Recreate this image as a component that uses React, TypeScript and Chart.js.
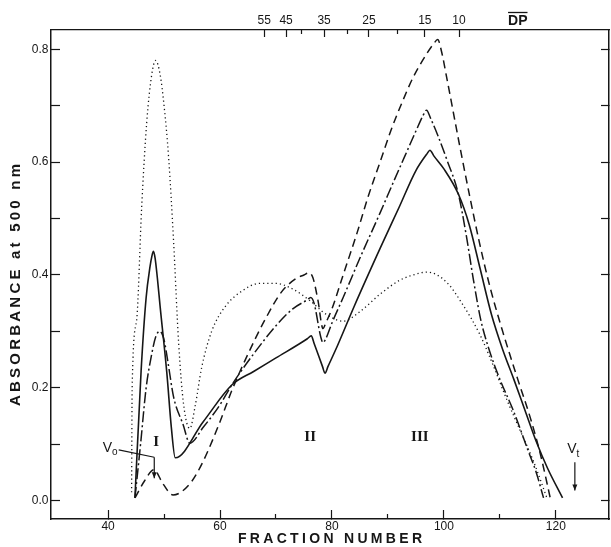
import React, { useEffect, useRef } from 'react';
import { Chart, registerables } from 'chart.js';

Chart.register(...registerables);

// ---- axis ticks ----
const xTickValues = [40, 60, 80, 100, 120];
const xMinorTickValues = [50, 70, 90, 110];
const yTickValues = [0, 0.1, 0.2, 0.3, 0.4, 0.5, 0.6, 0.7, 0.8];
const dpTickLabels = ['55', '45', '35', '25', '15', '10'];
const dpTickFractions = [67.9, 71.8, 78.6, 86.6, 96.6, 102.7];
const dpMinorTickFractions = [74.6, 82.7, 91.7];

// ---- series (fraction number, absorbance at 500 nm) ----
const solidX = [44.8, 45.9, 46.8, 47.5, 47.8, 48.1, 48.4, 48.8, 49.3, 50.5, 51.3, 52.0, 57.0, 62.1, 66.0, 70.0, 75.6, 76.3, 76.8, 78.3, 78.75, 79.3, 81.0, 84.0, 88.6, 92.0, 95.0, 97.0, 97.5, 98.2, 100.0, 102.6, 104.5, 106.5, 108.5, 110.5, 112.5, 114.5, 116.5, 118.5, 121.2];
const solidY = [0.005, 0.23, 0.36, 0.415, 0.432, 0.442, 0.43, 0.395, 0.344, 0.226, 0.13, 0.076, 0.14, 0.205, 0.229, 0.253, 0.287, 0.292, 0.279, 0.238, 0.226, 0.238, 0.275, 0.345, 0.447, 0.52, 0.585, 0.615, 0.621, 0.611, 0.588, 0.543, 0.49, 0.41, 0.33, 0.268, 0.215, 0.16, 0.105, 0.058, 0.005];

const dashedX = [44.8, 46.5, 48.2, 49.8, 51.6, 53.0, 55.0, 57.0, 60.0, 62.1, 65.0, 68.0, 71.0, 73.5, 75.0, 75.9, 76.6, 77.5, 78.4, 78.9, 80.0, 82.0, 84.5, 86.5, 88.6, 90.5, 92.5, 94.5, 96.5, 98.2, 98.9, 99.6, 100.4, 102.9, 104.6, 106.4, 108.2, 110.5, 113.2, 115.5, 117.3, 119.0];
const dashedY = [0.005, 0.035, 0.055, 0.03, 0.01, 0.015, 0.035, 0.07, 0.14, 0.195, 0.26, 0.32, 0.37, 0.393, 0.40, 0.404, 0.395, 0.355, 0.305, 0.315, 0.34, 0.40, 0.475, 0.54, 0.60, 0.655, 0.705, 0.75, 0.785, 0.81, 0.817, 0.795, 0.755, 0.625, 0.54, 0.455, 0.38, 0.30, 0.215, 0.145, 0.08, 0.005];

const dashDotX = [44.8, 45.8, 46.8, 47.8, 48.5, 49.2, 50.0, 50.7, 51.7, 53.4, 54.6, 57.0, 60.0, 62.1, 66.0, 70.0, 73.0, 75.6, 76.2, 76.8, 78.0, 78.4, 78.9, 80.0, 82.0, 85.0, 88.6, 91.0, 93.0, 95.0, 96.3, 96.9, 97.6, 99.0, 100.5, 102.6, 104.0, 105.3, 106.6, 108.0, 110.0, 112.4, 115.0, 116.5, 117.8];
const dashDotY = [0.005, 0.1, 0.2, 0.26, 0.29, 0.30, 0.285, 0.245, 0.184, 0.135, 0.102, 0.13, 0.17, 0.205, 0.26, 0.31, 0.34, 0.356, 0.36, 0.35, 0.29, 0.28, 0.287, 0.315, 0.36, 0.43, 0.51, 0.565, 0.61, 0.655, 0.683, 0.692, 0.678, 0.645, 0.605, 0.543, 0.47, 0.39, 0.32, 0.27, 0.215, 0.16, 0.09, 0.05, 0.005];

const dottedX = [44.2, 44.3, 45.1, 46.0, 46.9, 47.8, 48.5, 49.3, 50.0, 50.8, 51.7, 52.6, 53.5, 54.6, 55.6, 56.7, 58.5, 61.0, 64.0, 67.0, 70.0, 73.0, 76.0, 79.0, 82.0, 85.0, 88.6, 92.0, 94.5, 97.0, 100.5, 103.4, 106.4, 108.8, 111.2, 113.6, 116.0, 118.4];
const dottedY = [0.015, 0.2, 0.32, 0.52, 0.67, 0.755, 0.78, 0.755, 0.70, 0.61, 0.46, 0.28, 0.17, 0.128, 0.17, 0.235, 0.3, 0.345, 0.372, 0.385, 0.385, 0.375, 0.355, 0.33, 0.318, 0.335, 0.366, 0.39, 0.40, 0.405, 0.387, 0.347, 0.295, 0.24, 0.18, 0.125, 0.07, 0.005];

// ---- annotation text ----
const peakLabels = ['I', 'II', 'III'];
const peakLabelFractions = [48.6, 76.1, 95.7];
const peakLabelAbsorbance = [0.104, 0.113, 0.112];

const INK = '#161616';
const SANS = '"Liberation Sans", Arial, sans-serif';
const SERIF = '"Liberation Serif", "Times New Roman", serif';

const toPoints = (xs: number[], ys: number[]) => xs.map((v, i) => ({ x: v, y: ys[i] }));

function spacedText(ctx: CanvasRenderingContext2D, text: string, cx: number, cy: number, target: number) {
  (ctx as any).letterSpacing = '0px';
  const w = ctx.measureText(text).width;
  const sp = Math.max(0, (target - w) / Math.max(1, text.length - 1));
  (ctx as any).letterSpacing = sp + 'px';
  ctx.textAlign = 'left';
  ctx.textBaseline = 'middle';
  ctx.fillText(text, cx - target / 2, cy);
  (ctx as any).letterSpacing = '0px';
}

function arrowDown(ctx: CanvasRenderingContext2D, x: number, y0: number, y1: number) {
  ctx.beginPath();
  ctx.moveTo(x, y0);
  ctx.lineTo(x, y1);
  ctx.stroke();
  ctx.beginPath();
  ctx.moveTo(x - 2.5, y1 - 6);
  ctx.lineTo(x, y1);
  ctx.lineTo(x + 2.5, y1 - 6);
  ctx.closePath();
  ctx.fill();
}

const annotationPlugin = {
  id: 'annotationPlugin',
  afterDraw(chart: any) {
    const { ctx, chartArea } = chart;
    const xs = chart.scales.x;
    const ys = chart.scales.y;
    const px = (v: number) => xs.getPixelForValue(v);
    const py = (v: number) => ys.getPixelForValue(v);
    ctx.save();
    ctx.fillStyle = INK;
    ctx.strokeStyle = INK;

    // x axis title
    ctx.font = `bold 14px ${SANS}`;
    spacedText(ctx, 'FRACTION NUMBER', (chartArea.left + chartArea.right) / 2, 539, 184);

    // y axis title
    ctx.save();
    ctx.translate(16, 285);
    ctx.rotate(-Math.PI / 2);
    ctx.font = `bold 15px ${SANS}`;
    spacedText(ctx, 'ABSORBANCE at 500 nm', 0, 0, 242);
    ctx.restore();

    // DP label with overline
    ctx.font = `bold 14px ${SANS}`;
    ctx.textAlign = 'center';
    ctx.textBaseline = 'alphabetic';
    const dpX = px(113.2);
    const dpW = ctx.measureText('DP').width;
    ctx.fillText('DP', dpX, 25);
    ctx.lineWidth = 1.3;
    ctx.beginPath();
    ctx.moveTo(dpX - dpW / 2, 12.5);
    ctx.lineTo(dpX + dpW / 2, 12.5);
    ctx.stroke();

    // peak labels
    ctx.font = `bold 15px ${SERIF}`;
    ctx.textAlign = 'center';
    ctx.textBaseline = 'middle';
    peakLabels.forEach((t, i) => ctx.fillText(t, px(peakLabelFractions[i]), py(peakLabelAbsorbance[i])));

    // Vo annotation
    ctx.font = `14px ${SANS}`;
    ctx.textAlign = 'right';
    ctx.textBaseline = 'middle';
    ctx.fillText('V', px(40.7), py(0.094));
    ctx.font = `10px ${SANS}`;
    ctx.textAlign = 'left';
    ctx.fillText('o', px(40.7), py(0.085));
    ctx.lineWidth = 1.2;
    ctx.beginPath();
    ctx.moveTo(px(41.9), py(0.09));
    ctx.lineTo(px(48.25), py(0.077));
    ctx.stroke();
    arrowDown(ctx, px(48.25), py(0.077), py(0.04));

    // Vt annotation
    ctx.font = `14px ${SANS}`;
    ctx.textAlign = 'right';
    ctx.fillText('V', px(123.7), py(0.092));
    ctx.font = `10px ${SANS}`;
    ctx.textAlign = 'left';
    ctx.fillText('t', px(123.7), py(0.083));
    arrowDown(ctx, px(123.4), py(0.068), py(0.018));

    ctx.restore();
  },
};

const tickFont = { family: SANS, size: 12 };
const X_MIN = 29.8;
const X_MAX = 129.5;
const Y_MIN = -0.0324;
const Y_MAX = 0.834;

export default function App() {
  const canvasRef = useRef<HTMLCanvasElement | null>(null);

  useEffect(() => {
    if (!canvasRef.current) return;
    const line = (data: any, dash: number[], width: number) => ({
      data,
      borderColor: INK,
      borderWidth: width,
      borderDash: dash,
      pointRadius: 0,
      fill: false,
      cubicInterpolationMode: 'monotone' as const,
    });
    const chart = new Chart(canvasRef.current, {
      type: 'line',
      data: {
        datasets: [
          { label: 'solid', ...line(toPoints(solidX, solidY), [], 1.6) },
          { label: 'dashed', ...line(toPoints(dashedX, dashedY), [8, 5], 1.5) },
          { label: 'dash-dot', ...line(toPoints(dashDotX, dashDotY), [11, 3, 2, 3], 1.5) },
          { label: 'dotted', ...line(toPoints(dottedX, dottedY), [1.2, 3], 1.3) },
        ],
      },
      options: {
        responsive: false,
        animation: false,
        devicePixelRatio: 1,
        events: [],
        layout: { padding: 0 },
        plugins: { legend: { display: false }, tooltip: { enabled: false } },
        scales: {
          x: {
            type: 'linear',
            position: 'bottom',
            weight: 1,
            min: X_MIN,
            max: X_MAX,
            afterBuildTicks: (s: any) => { s.ticks = xTickValues.map((v) => ({ value: v })); },
            afterFit: (s: any) => { s.height = 28; },
            border: { display: true, color: INK, width: 1.5 },
            grid: { drawOnChartArea: false, drawTicks: true, tickLength: -9, tickColor: INK, tickWidth: 1.2 },
            ticks: { autoSkip: false, maxRotation: 0, padding: 9, color: INK, font: tickFont, callback: (v: any) => String(v) },
          },
          xMinor: {
            type: 'linear',
            position: 'bottom',
            weight: 0,
            min: X_MIN,
            max: X_MAX,
            afterBuildTicks: (s: any) => { s.ticks = xMinorTickValues.map((v) => ({ value: v })); },
            afterFit: (s: any) => { s.height = 0; },
            border: { display: false },
            grid: { drawOnChartArea: false, drawTicks: true, tickLength: -5, tickColor: INK, tickWidth: 1.2 },
            ticks: { display: false },
          },
          xTop: {
            type: 'linear',
            position: 'top',
            weight: 1,
            min: X_MIN,
            max: X_MAX,
            afterBuildTicks: (s: any) => { s.ticks = dpTickFractions.map((v) => ({ value: v })); },
            afterFit: (s: any) => { s.height = 30; },
            border: { display: true, color: INK, width: 1.3 },
            grid: { drawOnChartArea: false, drawTicks: true, tickLength: -7, tickColor: INK, tickWidth: 1.2 },
            ticks: { autoSkip: false, maxRotation: 0, padding: 9, color: INK, font: tickFont, callback: (_v: any, i: number) => dpTickLabels[i] },
          },
          xTopMinor: {
            type: 'linear',
            position: 'top',
            weight: 0,
            min: X_MIN,
            max: X_MAX,
            afterBuildTicks: (s: any) => { s.ticks = dpMinorTickFractions.map((v) => ({ value: v })); },
            afterFit: (s: any) => { s.height = 0; },
            border: { display: false },
            grid: { drawOnChartArea: false, drawTicks: true, tickLength: -4, tickColor: INK, tickWidth: 1.2 },
            ticks: { display: false },
          },
          y: {
            type: 'linear',
            position: 'left',
            min: Y_MIN,
            max: Y_MAX,
            afterBuildTicks: (s: any) => { s.ticks = yTickValues.map((v) => ({ value: v })); },
            afterFit: (s: any) => { s.width = 51; },
            border: { display: true, color: INK, width: 1.5 },
            grid: { drawOnChartArea: false, drawTicks: true, tickLength: -9, tickColor: INK, tickWidth: 1.2 },
            ticks: {
              autoSkip: false,
              padding: 11.5,
              color: INK,
              font: tickFont,
              callback: (v: any) => (Math.round(Number(v) * 10) % 2 === 0 ? Number(v).toFixed(1) : ''),
            },
          },
          y2: {
            type: 'linear',
            position: 'right',
            min: Y_MIN,
            max: Y_MAX,
            afterBuildTicks: (s: any) => { s.ticks = yTickValues.map((v) => ({ value: v })); },
            afterFit: (s: any) => { s.width = 2; },
            border: { display: true, color: INK, width: 1.5 },
            grid: { drawOnChartArea: false, drawTicks: true, tickLength: -8, tickColor: INK, tickWidth: 1.2 },
            ticks: { display: false },
          },
        },
      },
      plugins: [annotationPlugin],
    });
    return () => chart.destroy();
  }, []);

  return (
    <div style={{ position: 'absolute', left: 0, top: 0, width: 611, height: 547, background: '#fff' }}>
      <canvas ref={canvasRef} width={611} height={547} style={{ display: 'block' }} />
    </div>
  );
}
